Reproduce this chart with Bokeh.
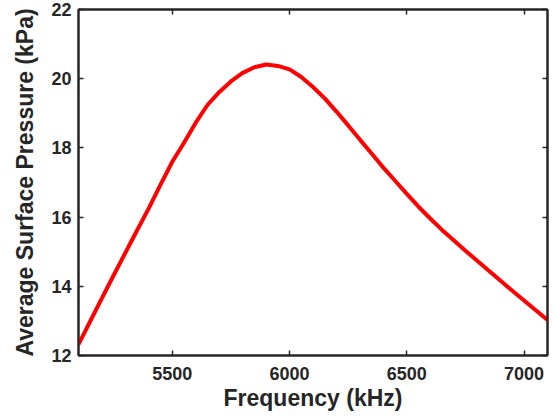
from bokeh.plotting import figure
from bokeh.models import LinearAxis, Range1d, FixedTicker, CustomJSTickFormatter
from bokeh.embed import file_html
from bokeh.resources import INLINE

# Data
frequency_khz = [5100, 5150, 5200, 5250, 5300, 5350, 5400, 5450, 5500, 5550,
                 5600, 5650, 5700, 5750, 5800, 5850, 5900, 5950, 6000, 6050,
                 6100, 6150, 6200, 6250, 6300, 6350, 6400, 6450, 6500, 6550,
                 6600, 6650, 6700, 6750, 6800, 6850, 6900, 6950, 7000, 7050, 7100]
pressure_kpa = [12.32, 12.99, 13.66, 14.32, 14.97, 15.62, 16.26, 16.94, 17.60, 18.15,
                18.73, 19.24, 19.61, 19.92, 20.17, 20.33, 20.41, 20.37, 20.27, 20.05,
                19.76, 19.43, 19.05, 18.65, 18.24, 17.84, 17.43, 17.05, 16.67, 16.30,
                15.96, 15.63, 15.33, 15.03, 14.74, 14.45, 14.16, 13.87, 13.59, 13.31, 13.03]
x_ticks = [5500, 6000, 6500, 7000]
y_ticks = [12, 14, 16, 18, 20, 22]

TXT = "#262626"
FONT = "Liberation Sans"

p = figure(width=553, height=419, output_backend="svg", toolbar_location=None,
           x_range=Range1d(5100, 7100), y_range=Range1d(12, 22),
           min_border_left=78, min_border_right=6, min_border_top=9, min_border_bottom=64,
           x_axis_label="Frequency (kHz)", y_axis_label="Average Surface Pressure (kPa)")
p.grid.visible = False
p.outline_line_color = TXT
p.outline_line_width = 2

p.line(frequency_khz, pressure_kpa, line_color="#ff0000", line_width=4)

def style(ax, ticks, labels=True):
    ax.ticker = FixedTicker(ticks=ticks)
    ax.axis_line_color = TXT
    ax.axis_line_width = 2
    ax.major_tick_line_color = TXT
    ax.major_tick_line_width = 1.5
    ax.major_tick_in = 5
    ax.major_tick_out = 0
    ax.minor_tick_line_color = None
    ax.major_label_text_font = FONT
    ax.major_label_text_font_style = "bold"
    ax.major_label_text_color = TXT
    ax.major_label_text_font_size = "18px"
    ax.axis_label_text_font = FONT
    ax.axis_label_text_font_style = "bold"
    ax.axis_label_text_color = TXT
    ax.axis_label_text_font_size = "23px"
    if not labels:
        ax.formatter = CustomJSTickFormatter(code="return ''")
        ax.major_label_standoff = 0

xa = p.xaxis[0]
ya = p.yaxis[0]
style(xa, x_ticks)
style(ya, y_ticks)
xa.major_label_standoff = 11
xa.axis_label_standoff = 2
ya.major_label_standoff = 7
ya.axis_label_standoff = 10

top = LinearAxis()
right = LinearAxis()
style(top, x_ticks, labels=False)
style(right, y_ticks, labels=False)
p.add_layout(top, "above")
p.add_layout(right, "right")

open("out.html", "w").write(file_html(p, INLINE))
